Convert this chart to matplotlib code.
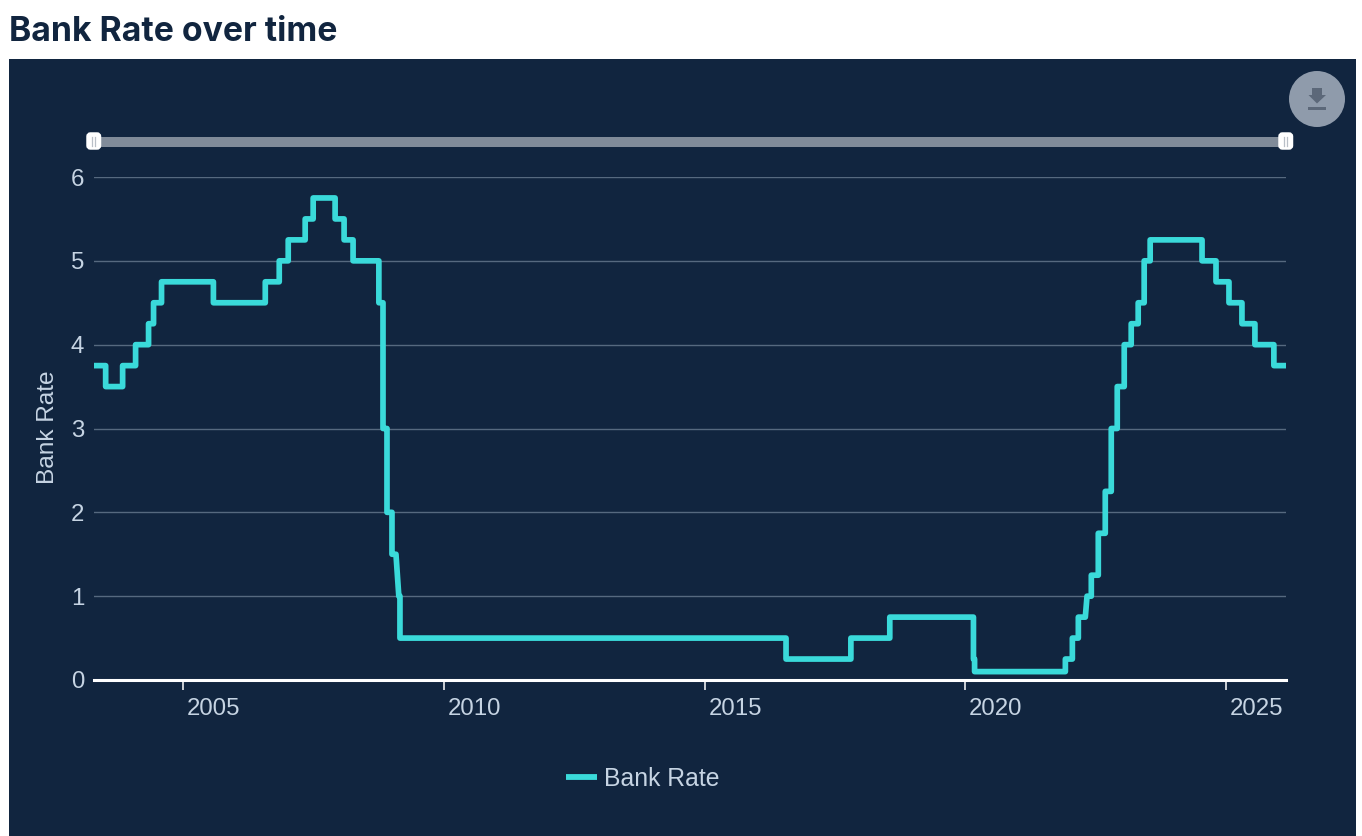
import matplotlib
matplotlib.use("Agg")
import matplotlib.pyplot as plt
import matplotlib.dates as mdates
from matplotlib.patches import Rectangle, Circle, FancyBboxPatch, Polygon
from matplotlib.transforms import ScaledTranslation
import pandas as pd

change_dates = ["2003-02-06","2003-07-10","2003-11-06","2004-02-05","2004-05-06","2004-06-10","2004-08-05",
    "2005-08-04","2006-08-03","2006-11-09","2007-01-11","2007-05-10","2007-07-05","2007-12-06",
    "2008-02-07","2008-04-10","2008-10-08","2008-11-06","2008-12-04","2009-01-08","2009-02-05","2009-03-05",
    "2016-08-04","2017-11-02","2018-08-02","2020-03-11","2020-03-19","2021-12-16","2022-02-03","2022-03-17",
    "2022-05-05","2022-06-16","2022-08-04","2022-09-22","2022-11-03","2022-12-15","2023-02-02","2023-03-23",
    "2023-05-11","2023-06-22","2023-08-03","2024-08-01","2024-11-07","2025-02-06","2025-05-08","2025-08-07",
    "2025-12-18"]
rates = [3.75,3.5,3.75,4,4.25,4.5,4.75,4.5,4.75,5,5.25,5.5,5.75,5.5,5.25,5,4.5,3,2,1.5,1,0.5,
    0.25,0.5,0.75,0.25,0.1,0.25,0.5,0.75,1,1.25,1.75,2.25,3,3.5,4,4.25,4.5,5,5.25,5,4.75,4.5,4.25,4,3.75]
# changes that the reference draws as a short ramp instead of a vertical step (days)
ramps = {"2009-02-05": 20, "2022-05-05": 12}
y_ticks = [0,1,2,3,4,5,6]
x_tick_years = [2005,2010,2015,2020,2025]
series_name = "Bank Rate"
title_text = "Bank Rate over time"

NAVY = "#11253f"; TEAL = "#3adada"; TXT = "#c6d4e3"; GRID = "#56697f"
W, H = 1362, 836
fig = plt.figure(figsize=(W/100, H/100), dpi=100, facecolor="white")

bg = fig.add_axes([0, 0, 1, 1], zorder=0)
bg.set_xlim(0, W); bg.set_ylim(H, 0); bg.axis("off")
bg.add_patch(Rectangle((9, 59), 1347, 777, fc=NAVY, ec="none"))
bg.text(9, 32, title_text, family="Inter", fontweight="bold", fontsize=24.3, color=NAVY, va="center", ha="left")
bg.text(48, 427, series_name, family="Liberation Sans", fontsize=17.6, color=TXT, rotation=90, va="center", ha="center")
bg.plot([566, 597], [777, 777], color=TEAL, lw=4.2, solid_capstyle="butt")
bg.text(604, 779, series_name, family="Liberation Sans", fontsize=17.8, color=TXT, va="center", ha="left")

ax = fig.add_axes([94/W, 1-680/H, (1286-94)/W, (680-177)/H], zorder=1)
ax.patch.set_alpha(0)

# build the step path; the plotted time base of the reference runs slightly
# behind its tick marks, by about 2 days in 2003 growing to 16 days in 2026
xs, ys = [], []
for i, (ds, r) in enumerate(zip(change_dates, rates)):
    t = pd.Timestamp(ds)
    frac = (t - pd.Timestamp("2003-01-01")).days / (23 * 365.25)
    t = t - pd.Timedelta(days=2 + 14 * frac)
    if i:
        xs.append(t); ys.append(rates[i-1])
    xs.append(t + pd.Timedelta(days=ramps.get(ds, 0))); ys.append(r)
xs.append(pd.Timestamp("2026-03-31")); ys.append(rates[-1])
ax.plot(xs, ys, color=TEAL, lw=4.1, solid_joinstyle="round", zorder=3)

ax.set_ylim(0, 6)
ax.set_xlim(pd.Timestamp("2003-04-17"), pd.Timestamp("2026-02-25"))
ax.set_yticks(y_ticks)
ax.set_xticks([pd.Timestamp(f"{y}-01-01") for y in x_tick_years])
ax.xaxis.set_major_formatter(mdates.DateFormatter("%Y"))
ax.grid(axis="y", color=GRID, lw=1.0, zorder=1)
ax.set_axisbelow(True)
for s in ["top", "right", "left"]:
    ax.spines[s].set_visible(False)
ax.spines["bottom"].set_color("white"); ax.spines["bottom"].set_linewidth(2.2)
ax.tick_params(axis="y", length=0, pad=7, labelcolor=TXT)
ax.tick_params(axis="x", length=7, width=1.1, color="white", pad=6, labelcolor=TXT)
shift = ScaledTranslation(4/72*0.72, 0, fig.dpi_scale_trans)
for t in ax.get_yticklabels():
    t.set_family("Liberation Sans"); t.set_fontsize(17.3)
for t in ax.get_xticklabels():
    t.set_family("Liberation Sans"); t.set_fontsize(17.3)
    t.set_ha("left")
    t.set_transform(t.get_transform() + shift)

fg = fig.add_axes([0, 0, 1, 1], zorder=2)
fg.set_xlim(0, W); fg.set_ylim(H, 0); fg.axis("off"); fg.patch.set_alpha(0)
fg.add_patch(Rectangle((94, 137), 1192, 9.5, fc="#808b99", ec="none"))
for x0 in (86, 1278):
    fg.add_patch(FancyBboxPatch((x0+2, 134), 11.5, 14, boxstyle="round,pad=0,rounding_size=2.5",
                                mutation_aspect=1, fc="white", ec="white", lw=2.5))
    for dx in (6.2, 9):
        fg.plot([x0+dx, x0+dx], [137, 146], color="#b9bfc7", lw=0.9)
fg.add_patch(Circle((1317, 99), 28, fc="#8f9bab", ec="none"))
fg.add_patch(Polygon([(1312, 88), (1322, 88), (1322, 95), (1326, 95), (1317, 103.5), (1308.5, 95), (1312, 95)],
                     fc="#5c6879", ec="none"))
fg.add_patch(Rectangle((1308, 107), 18, 3, fc="#5c6879", ec="none"))

fig.savefig("out.png", dpi=100)
